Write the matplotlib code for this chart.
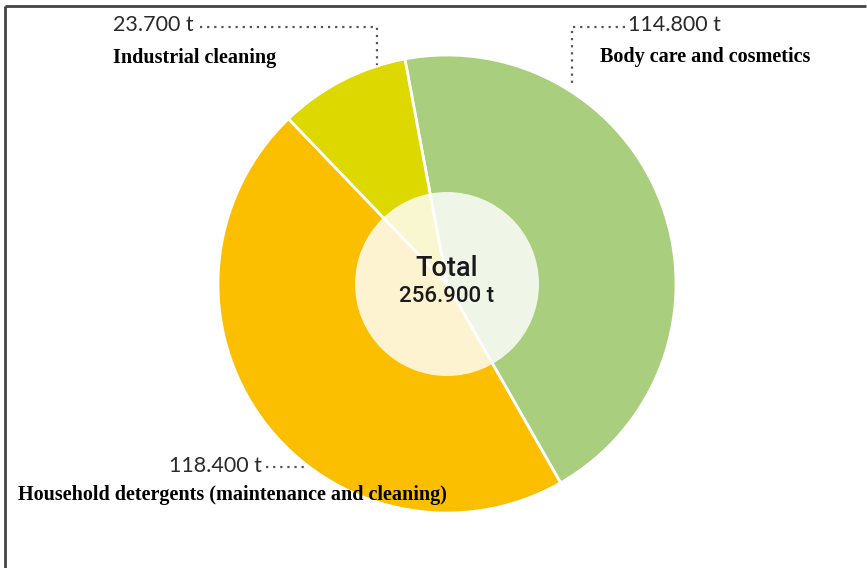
import matplotlib.pyplot as plt
from matplotlib.patches import Circle

# share of washing / cleaning / care products (tonnes)
labels = ['Body care and cosmetics', 'Household detergents (maintenance and cleaning)', 'Industrial cleaning']
amounts = [114.8, 118.4, 23.7]
amount_txt = ['114.800 t', '118.400 t', '23.700 t']
total_txt = '256.900 t'
colors = ['#A8CE7E', '#FBBF00', '#DDD800']

W, H = 867, 568
fig = plt.figure(figsize=(W / 100, H / 100), dpi=100)
ax = fig.add_axes([0, 0, 1, 1])

cx, cy, r = 447, H - 284, 229
ax.pie(amounts, colors=colors, startangle=100.6, counterclock=False,
       center=(cx, cy), radius=r,
       wedgeprops=dict(edgecolor='white', linewidth=2))
# lighter inner disc
ax.add_patch(Circle((cx, cy), 92, facecolor='white', alpha=0.82, edgecolor='none', zorder=5))

ax.set_xlim(0, W)
ax.set_ylim(0, H)
ax.set_aspect('equal')
ax.axis('off')

numfont = dict(family='Lato', fontsize=15.5, color='#2a2a2a')
labfont = dict(family='Liberation Serif', fontsize=14.5, fontweight='bold', color='black')
dots = dict(color='#555555', linestyle=(0, (1, 2.2)), linewidth=1.6)

# industrial cleaning
ax.text(113, H - 25, amount_txt[2], ha='left', va='center', **numfont)
ax.text(113, H - 58, labels[2], ha='left', va='center', **labfont)
ax.plot([200, 377, 377], [H - 27, H - 27, H - 65], **dots)

# body care
ax.text(628, H - 25, amount_txt[0], ha='left', va='center', **numfont)
ax.text(600, H - 57, labels[0], ha='left', va='center', **labfont)
ax.plot([625, 572, 572], [H - 27, H - 27, H - 85], **dots)

# household
ax.text(262, H - 466, amount_txt[1], ha='right', va='center', **numfont)
ax.text(18, H - 495, labels[1], ha='left', va='center', **labfont)
ax.plot([266, 308], [H - 467, H - 467], **dots)

# centre label
ax.text(cx, H - 268, 'Total', ha='center', va='center', family='Roboto',
        fontsize=19.5, fontweight='medium', color='#1a1a1a', zorder=6)
ax.text(cx, H - 297, total_txt, ha='center', va='center', family='Roboto',
        fontsize=16, fontweight='medium', color='#1a1a1a', zorder=6)

# frame lines (top and left)
ax.plot([5, 866], [H - 6, H - 6], color='#444444', linewidth=2, solid_capstyle='butt')
ax.plot([5, 5], [H - 6, 0], color='#444444', linewidth=2, solid_capstyle='butt')

fig.savefig('out.png', dpi=100)
